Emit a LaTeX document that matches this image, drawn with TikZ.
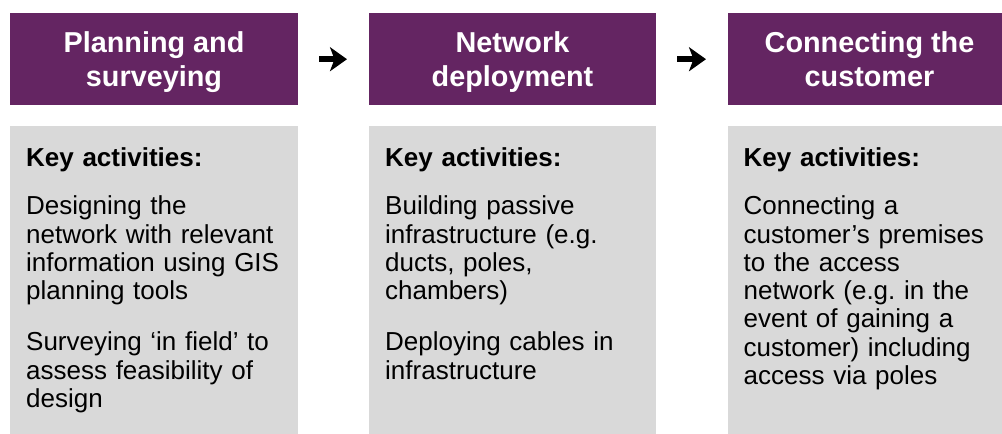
\documentclass[tikz,border=0pt]{standalone}
\usepackage{fontspec}
\setmainfont{Liberation Sans}
\usetikzlibrary{arrows.meta}
\definecolor{stagepurple}{RGB}{100,37,98}
\definecolor{panelgrey}{RGB}{217,217,217}
\frenchspacing

\begin{document}
\begin{tikzpicture}[x=1pt,y=-1pt,
  hdrbox/.style={fill=stagepurple, draw=none, inner sep=0pt, anchor=north west,
    minimum height=92pt},
  hdrtext/.style={text=white, inner sep=0pt, anchor=north, align=center,
    font=\bfseries\fontsize{28.8}{34.4}\selectfont},
  panel/.style={fill=panelgrey, draw=none, inner sep=0pt, anchor=north west,
    minimum height=308pt},
  paneltext/.style={inner sep=0pt, anchor=north west, text width=258pt, align=left,
    font=\fontsize{26}{28.3}\selectfont},
  stagearrow/.style={line width=5.7pt, draw=black,
    -{Stealth[length=17pt,width=24pt,inset=4.5pt]},
    shorten <=21pt, shorten >=22pt}
]
\useasboundingbox (0,0) rectangle (1002,434);

% stage headers
\node[hdrbox, minimum width=288pt] (h1) at (10,13) {};
\node[hdrbox, minimum width=287pt] (h2) at (369,13) {};
\node[hdrbox, minimum width=274pt] (h3) at (728,13) {};

\node[hdrtext] (t1) at (154,30) {\rule{0pt}{22pt}Planning and\\surveying};
\node[hdrtext] (t2) at (512.5,30) {\rule{0pt}{22pt}Network\\deployment};
\node[hdrtext] (t3) at (869.5,30) {\rule{0pt}{22pt}Connecting the\\customer};

% flow between stages
\draw[stagearrow] (h1.east) -- (h2.west);
\draw[stagearrow] (h2.east) -- (h3.west);

% activity panels
\node[panel, minimum width=288pt] (p1) at (10,126) {};
\node[panel, minimum width=287pt] (p2) at (369,126) {};
\node[panel, minimum width=274pt] (p3) at (728,126) {};

\node[paneltext] (a1) at (26,146.7) {\rule{0pt}{20pt}\textbf{Key activities:}\\[19.5pt]
Designing the\\ network with relevant\\ information using GIS\\ planning tools\\[23pt]
Surveying ‘in field’ to\\ assess feasibility of\\ design};

\node[paneltext] (a2) at (385,146.7) {\rule{0pt}{20pt}\textbf{Key activities:}\\[19.5pt]
Building passive\\ infrastructure (e.g.\\ ducts, poles,\\ chambers)\\[23pt]
Deploying cables in\\ infrastructure};

\node[paneltext] (a3) at (743.5,146.7) {\rule{0pt}{20pt}\textbf{Key activities:}\\[19.5pt]
Connecting a\\ customer’s premises\\ to the access\\ network (e.g. in the\\ event of gaining a\\ customer) including\\ access via poles};
\end{tikzpicture}
\end{document}
